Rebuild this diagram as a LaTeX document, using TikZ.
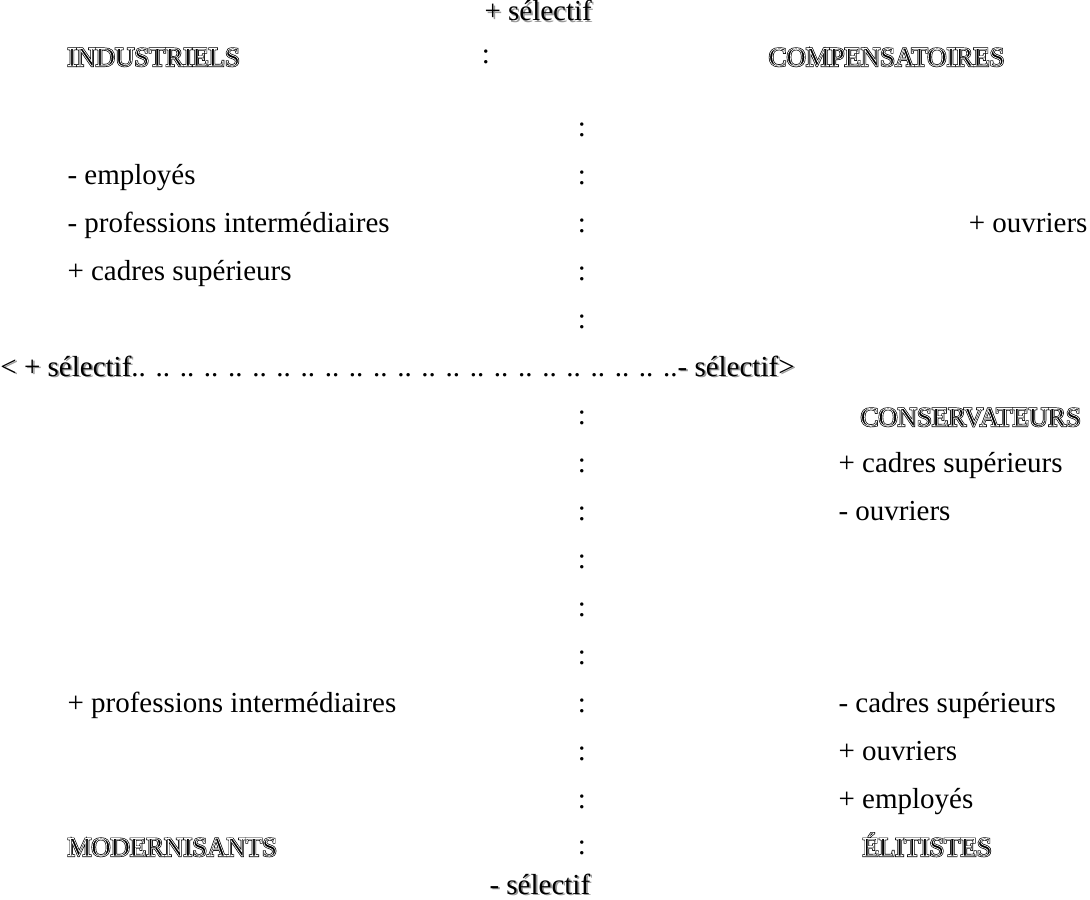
\documentclass[tikz,border=0pt]{standalone}
\usepackage{fontspec}
\setmainfont{Liberation Serif}
\usetikzlibrary{positioning}

% engraved capitals: filled+stroked glyph, thin white line on the contour
\newcommand{\engr}[1]{\leavevmode\rlap{\special{pdf:literal direct 2 Tr 0.8 w}#1\special{pdf:literal direct 0 Tr}}%
  \textcolor{white}{\special{pdf:literal direct 1 Tr 0.25 w}#1\special{pdf:literal direct 0 Tr}}}
% soft grey shadow behind the text
\newcommand{\shad}[1]{\leavevmode\rlap{\kern0.7pt\raisebox{-0.7pt}{\textcolor{black!40}{#1}}}#1}
\newcommand{\axisdots}{.. .. .. .. .. .. .. .. .. .. .. .. .. .. .. .. .. .. .. .. .. .. ..}

\tikzset{
  item/.style={anchor=base west, inner sep=0pt, font=\fontsize{11.6}{14}\selectfont},
  itemr/.style={item, anchor=base east},
  colon/.style={anchor=base, inner sep=0pt, font=\fontsize{11.6}{14}\selectfont},
  head/.style={anchor=base west, inner sep=0pt, font=\fontsize{10.7}{12}\selectfont},
  headr/.style={head, anchor=base east},
}

\begin{document}
\begin{tikzpicture}[x=0.4pt, y=-0.4pt]
  \useasboundingbox (0,0) rectangle (1090,899);

  % axis ends
  \node[item] (plustop) at (484,21) {\shad{+ sélectif}};
  \node[item] (minusbot) at (489,894) {\shad{- sélectif}};

  % horizontal axis
  \node[item] (axis) at (0,376) {\shad{< + sélectif}\axisdots\shad{- sélectif>}};

  % vertical axis
  \node[colon] (ctop) at (486,64) {:};
  \foreach \y in {130,178,226,274,322,418,466,514,562,610,658,706,754,802,848}
    \node[colon] (c\y) at (582,\y+6) {:};

  % quadrants
  \node[head] (indus) at (67,66) {\engr{INDUSTRIELS}};
  \node[headr] (compens) at (1005,66) {\engr{COMPENSATOIRES}};
  \node[head] (conserv) at (860,426) {\engr{CONSERVATEURS}};
  \node[head] (moder) at (67,856) {\engr{MODERNISANTS}};
  \node[head] (elit) at (862,856) {\engr{ÉLITISTES}};

  % left column
  \node[item] (l1) at (67,184) {- employés};
  \node[item] (l2) at (67,232) {- professions intermédiaires};
  \node[item] (l3) at (67,280) {+ cadres supérieurs};
  \node[item] (l4) at (67,712) {+ professions intermédiaires};

  % right column
  \node[itemr] (r1) at (1088,232) {+ ouvriers};
  \node[item] (r2) at (838,472) {+ cadres supérieurs};
  \node[item] (r3) at (838,520) {- ouvriers};
  \node[item] (r4) at (838,712) {- cadres supérieurs};
  \node[item] (r5) at (838,760) {+ ouvriers};
  \node[item] (r6) at (838,808) {+ employés};
\end{tikzpicture}
\end{document}
